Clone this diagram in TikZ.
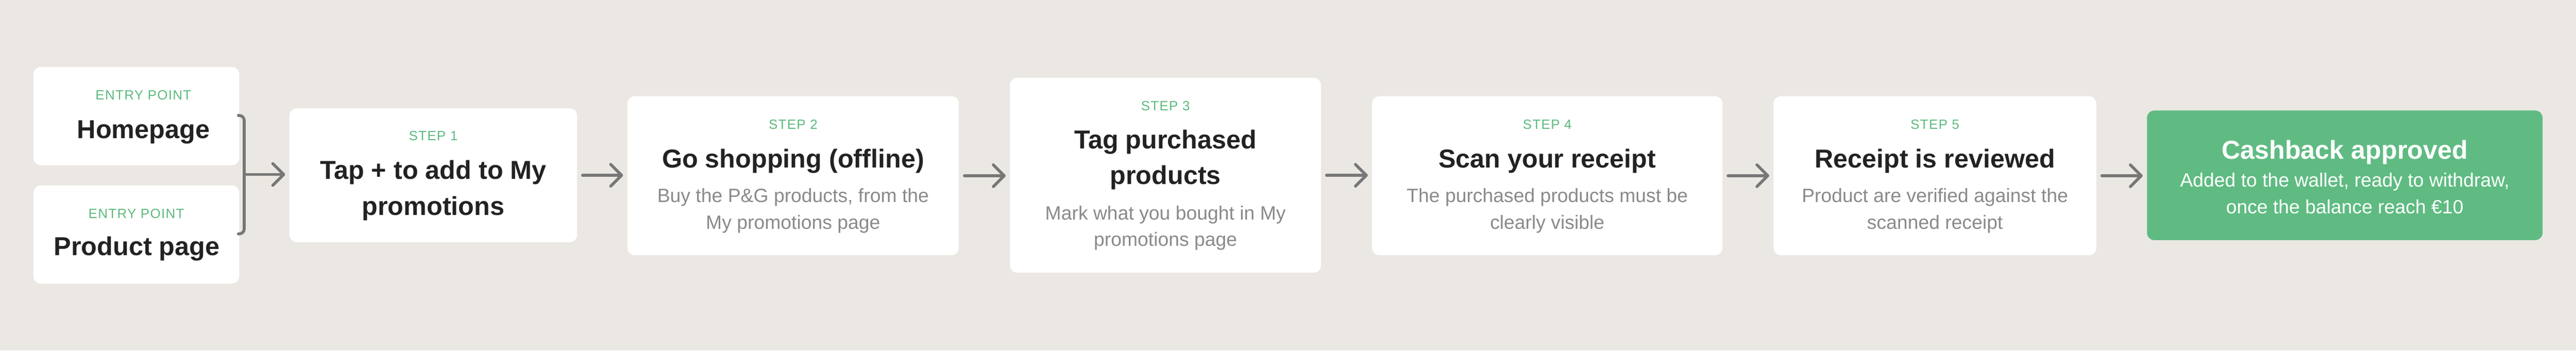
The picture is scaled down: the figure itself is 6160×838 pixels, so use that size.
\documentclass[tikz,border=0pt]{standalone}
\usepackage{fontspec}
\setmainfont{Liberation Sans}
\newfontfamily\lblfont[LetterSpace=5]{Liberation Sans}
\usetikzlibrary{arrows.meta}
\definecolor{bgc}{HTML}{EBE8E3}
\definecolor{grn}{HTML}{5FBB82}
\definecolor{lblgreen}{HTML}{5DBA7E}
\definecolor{ink}{HTML}{222222}
\definecolor{subc}{HTML}{8A8A8A}
\definecolor{arrc}{HTML}{777777}
\begin{document}
\begin{tikzpicture}[x=1pt,y=-1pt,
  box/.style={fill=white, rounded corners=18pt, inner sep=0pt, draw=none},
  gbox/.style={box, fill=grn},
  lbl/.style={font=\lblfont\fontsize{32}{38}\selectfont, text=lblgreen, inner sep=0pt, anchor=base},
  ttl/.style={font=\bfseries\fontsize{62}{74}\selectfont, text=ink, inner sep=0pt, anchor=base},
  dsc/.style={font=\fontsize{46}{55}\selectfont, text=subc, inner sep=0pt, anchor=base},
  conn/.style={draw=arrc, line width=7pt, line cap=round, line join=round},
  arr/.style={conn, -{Straight Barb[length=26pt, width=52pt, round]}},
]
\path[use as bounding box, fill=bgc] (0,0) rectangle (6160,838);

% boxes
\node[box, minimum width=492pt, minimum height=235pt] (hp) at (326,277.5) {};
\node[box, minimum width=492pt, minimum height=235pt] (pp) at (326,560.5) {};
\node[box, minimum width=688pt, minimum height=320pt] (s1) at (1036,419) {};
\node[box, minimum width=793pt, minimum height=380pt] (s2) at (1896.5,420) {};
\node[box, minimum width=744pt, minimum height=466pt] (s3) at (2787,419) {};
\node[box, minimum width=838pt, minimum height=380pt] (s4) at (3700,420) {};
\node[box, minimum width=772pt, minimum height=380pt] (s5) at (4627,420) {};
\node[gbox, minimum width=946pt, minimum height=310pt] (cb) at (5607,419) {};

% entry points
\node[lbl] (hpl) at (343,238.5) {ENTRY POINT};
\node[ttl] (hpt) at (343,331) {Homepage};
\node[lbl] (ppl) at (326,522) {ENTRY POINT};
\node[ttl] (ppt) at (327,611) {Product page};

% step 1
\node[lbl] (s1l) at (1036,336) {STEP 1};
\node[ttl] (s1a) at (1036,428) {Tap + to add to My};
\node[ttl] (s1b) at (1036,514) {promotions};

% step 2
\node[lbl] (s2l) at (1896.5,308) {STEP 2};
\node[ttl] (s2a) at (1896.5,401) {Go shopping (offline)};
\node[dsc] (s2c) at (1896.5,483) {Buy the P\&G products, from the};
\node[dsc] (s2d) at (1896.5,548) {My promotions page};

% step 3
\node[lbl] (s3l) at (2787,264) {STEP 3};
\node[ttl] (s3a) at (2787,356) {Tag purchased};
\node[ttl] (s3b) at (2787,441) {products};
\node[dsc] (s3c) at (2787,525) {Mark what you bought in My};
\node[dsc] (s3d) at (2787,588) {promotions page};

% step 4
\node[lbl] (s4l) at (3700,308) {STEP 4};
\node[ttl] (s4a) at (3700,401) {Scan your receipt};
\node[dsc] (s4c) at (3700,483) {The purchased products must be};
\node[dsc] (s4d) at (3700,548) {clearly visible};

% step 5
\node[lbl] (s5l) at (4627,308) {STEP 5};
\node[ttl] (s5a) at (4627,401) {Receipt is reviewed};
\node[dsc] (s5c) at (4627,483) {Product are verified against the};
\node[dsc] (s5d) at (4627,548) {scanned receipt};

% cashback
\node[ttl, text=white] (cba) at (5607,380) {Cashback approved};
\node[dsc, text=white] (cbc) at (5607,447) {Added to the wallet, ready to withdraw,};
\node[dsc, text=white] (cbd) at (5607,511) {once the balance reach €10};

% bracket
\draw[conn, rounded corners=12pt] (570,276) -- (584,276) -- (584,559) -- (570,559);
\coordinate (br) at (584,417);
\draw[arr, shorten >=10pt] (br) -- (br -| s1.west);

% connectors
\draw[arr, shorten <=13pt, shorten >=10pt] (s1.east) -- (s2.west |- s1.east);
\draw[arr, shorten <=13pt, shorten >=10pt] (s2.east) -- (s3.west |- s2.east);
\draw[arr, shorten <=13pt, shorten >=10pt] (s3.east) -- (s4.west |- s3.east);
\draw[arr, shorten <=13pt, shorten >=10pt] (s4.east) -- (s5.west |- s4.east);
\draw[arr, shorten <=13pt, shorten >=10pt] (s5.east) -- (cb.west |- s5.east);
\end{tikzpicture}
\end{document}
